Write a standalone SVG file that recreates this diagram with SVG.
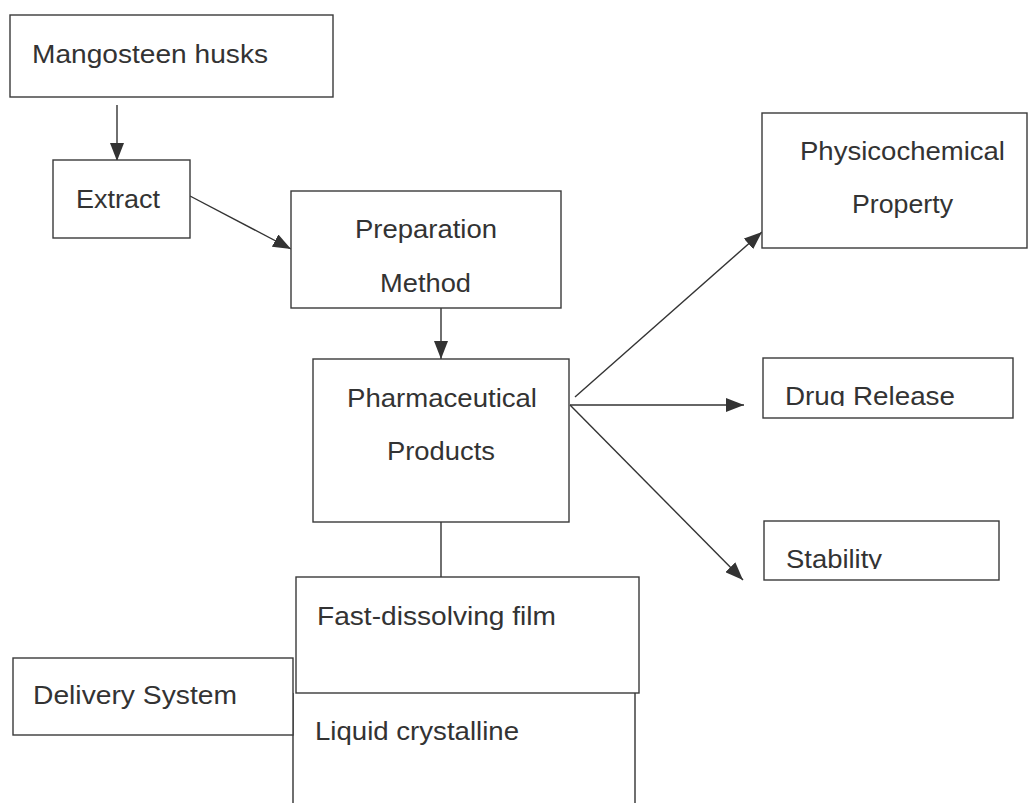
<svg xmlns="http://www.w3.org/2000/svg" width="1029" height="803" viewBox="0 0 1029 803">
<style>
.box{fill:#fff;stroke:#3a3a3a;stroke-width:1.4}
.t{font-family:"Liberation Sans",Arial,sans-serif;font-size:26px;fill:#333}
.c{stroke:#333;stroke-width:1.4;fill:none}
</style>
<defs>
<marker id="ah" markerUnits="userSpaceOnUse" markerWidth="18" markerHeight="14" refX="18" refY="7" orient="auto">
<path d="M0,0 L18,7 L0,14 z" fill="#333"/>
</marker>
<clipPath id="clipDrug"><rect x="760" y="355" width="260" height="51"/></clipPath>
<clipPath id="clipStab"><rect x="760" y="518" width="260" height="51"/></clipPath>
</defs>
<rect width="1029" height="803" fill="#fff"/>
<g id="connectors">
<line class="c" x1="117" y1="105" x2="117" y2="161" marker-end="url(#ah)"/>
<line class="c" x1="190" y1="196" x2="291" y2="249" marker-end="url(#ah)"/>
<line class="c" x1="441" y1="303" x2="441" y2="359" marker-end="url(#ah)"/>
<line class="c" x1="575" y1="397" x2="762" y2="232" marker-end="url(#ah)"/>
<line class="c" x1="570" y1="405" x2="744" y2="405" marker-end="url(#ah)"/>
<line class="c" x1="570" y1="405" x2="743" y2="580" marker-end="url(#ah)"/>
<line class="c" x1="441" y1="522" x2="441" y2="577"/>
</g>
<g id="mangosteen">
<rect class="box" x="10" y="15" width="323" height="82"/>
<text class="t" x="32" y="63" textLength="236" lengthAdjust="spacingAndGlyphs">Mangosteen husks</text>
</g>
<g id="extract">
<rect class="box" x="53" y="160" width="137" height="78"/>
<text class="t" x="76" y="208" textLength="84" lengthAdjust="spacingAndGlyphs">Extract</text>
</g>
<g id="preparation">
<rect class="box" x="291" y="191" width="270" height="117"/>
<text class="t" x="355" y="238" textLength="142" lengthAdjust="spacingAndGlyphs">Preparation</text>
<text class="t" x="380" y="292" textLength="91" lengthAdjust="spacingAndGlyphs">Method</text>
</g>
<g id="pharma">
<rect class="box" x="313" y="359" width="256" height="163"/>
<text class="t" x="347" y="407" textLength="190" lengthAdjust="spacingAndGlyphs">Pharmaceutical</text>
<text class="t" x="387" y="460" textLength="108" lengthAdjust="spacingAndGlyphs">Products</text>
</g>
<g id="physico">
<rect class="box" x="762" y="113" width="265" height="135"/>
<text class="t" x="800" y="160" textLength="205" lengthAdjust="spacingAndGlyphs">Physicochemical</text>
<text class="t" x="852" y="213" textLength="101" lengthAdjust="spacingAndGlyphs">Property</text>
</g>
<g id="drug">
<rect class="box" x="763" y="358" width="250" height="60"/>
<text class="t" x="785" y="405" textLength="170" lengthAdjust="spacingAndGlyphs" clip-path="url(#clipDrug)">Drug Release</text>
</g>
<g id="stability">
<rect class="box" x="764" y="521" width="235" height="59"/>
<text class="t" x="786" y="568" textLength="96" lengthAdjust="spacingAndGlyphs" clip-path="url(#clipStab)">Stability</text>
</g>
<g id="liquid">
<path class="c" d="M293,693 V803 M635,693 V803"/>
<text class="t" x="315" y="740" textLength="204" lengthAdjust="spacingAndGlyphs">Liquid crystalline</text>
</g>
<g id="fast">
<rect class="box" x="296" y="577" width="343" height="116"/>
<text class="t" x="317" y="625" textLength="239" lengthAdjust="spacingAndGlyphs">Fast-dissolving film</text>
</g>
<g id="delivery">
<rect class="box" x="13" y="658" width="280" height="77"/>
<text class="t" x="33" y="704" textLength="204" lengthAdjust="spacingAndGlyphs">Delivery System</text>
</g>
</svg>
